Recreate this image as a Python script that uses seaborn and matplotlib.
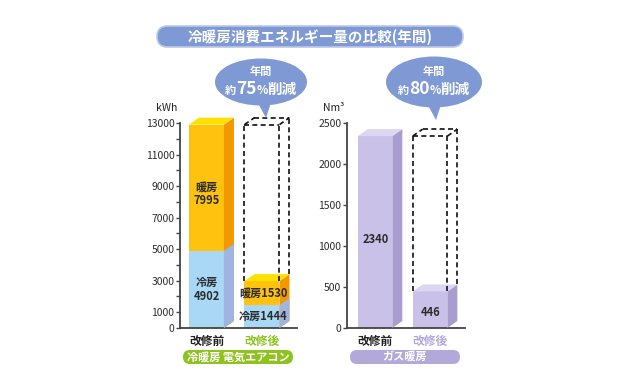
import matplotlib
matplotlib.use("Agg")
import matplotlib.pyplot as plt
import seaborn as sns
from matplotlib.patches import Polygon, FancyBboxPatch, Ellipse

sns.set_theme(style="white")
plt.rcParams["font.family"] = ["Noto Sans CJK JP", "DejaVu Sans"]

# データ
stages = ["改修前", "改修後"]
elec_cool = [4902, 1444]   # 冷房 kWh
elec_heat = [7995, 1530]   # 暖房 kWh
gas_heat = [2340, 446]     # ガス暖房 Nm3
elec_ticks = list(range(0, 13001, 1000))
elec_ticklabels = [str(v) if (v == 0 or (v // 1000) % 2 == 1) else "" for v in elec_ticks]
gas_ticks = [0, 500, 1000, 1500, 2000, 2500]
elec_cut = "75"
gas_cut = "80"

ORANGE, ORANGE_TOP, ORANGE_SIDE = "#ffc20e", "#ffe100", "#f39800"
BLUE, BLUE_SIDE = "#a8d8f5", "#9fb4e0"
LAV, LAV_TOP, LAV_SIDE = "#c9c1e8", "#dcd6f2", "#a99ccf"
BUBBLE = "#7e99d3"
GREEN = "#8dc21f"
LAV_TXT = "#b3a8da"
INK = "#2b2b2b"

W, H = 630, 390
fig = plt.figure(figsize=(W / 100, H / 100), dpi=100)


def px_axes(x0, y_top, x1, y_bot):
    return fig.add_axes([x0 / W, (H - y_bot) / H, (x1 - x0) / W, (y_bot - y_top) / H])


def style_axes(ax, ymax, ticks, ticklabels, unit):
    ax.set_ylim(0, ymax)
    ax.set_yticks(ticks)
    ax.set_yticklabels(ticklabels)
    ax.set_xlabel("")
    ax.set_ylabel("")
    for s in ["top", "right"]:
        ax.spines[s].set_visible(False)
    for s in ["left", "bottom"]:
        ax.spines[s].set_color("#444444")
        ax.spines[s].set_linewidth(1.3)
    ax.tick_params(axis="y", length=3, width=1, color="#444444", pad=1,
                   labelsize=7.5, labelcolor=INK, direction="out", left=True)
    ax.tick_params(axis="x", length=0, pad=5, labelsize=8.5)
    for lab in ax.get_xticklabels():
        lab.set_fontweight("bold")
    ax.patch.set_alpha(0)
    ax.text(-0.11, 1.075, unit, transform=ax.transAxes, ha="center", va="center",
            fontsize=7.5, color="#222222")


def depth(ax, dx_px=10, dy_px=7):
    bb = ax.get_position()
    xr = ax.get_xlim()[1] - ax.get_xlim()[0]
    yr = ax.get_ylim()[1] - ax.get_ylim()[0]
    return dx_px * xr / (bb.width * W), dy_px * yr / (bb.height * H)


def side_face(ax, p, color, dx, dy):
    x1 = p.get_x() + p.get_width()
    y0, y1 = p.get_y(), p.get_y() + p.get_height()
    ax.add_patch(Polygon([(x1, y0), (x1 + dx, y0 + dy), (x1 + dx, y1 + dy), (x1, y1)],
                         closed=True, fc=color, ec="none", clip_on=False, zorder=3))


def top_face(ax, p, color, dx, dy):
    x0, x1 = p.get_x(), p.get_x() + p.get_width()
    y1 = p.get_y() + p.get_height()
    ax.add_patch(Polygon([(x0, y1), (x0 + dx, y1 + dy), (x1 + dx, y1 + dy), (x1, y1)],
                         closed=True, fc=color, ec="none", clip_on=False, zorder=3))


def dashed_box(ax, p, top, dx, dy):
    x0, x1 = p.get_x(), p.get_x() + p.get_width()
    b = p.get_y() + p.get_height()
    kw = dict(color="#111111", lw=1.2, ls=(0, (3, 2)), clip_on=False, zorder=4)
    ax.plot([x0, x0], [b, top], **kw)
    ax.plot([x1, x1], [b, top], **kw)
    ax.plot([x1 + dx, x1 + dx], [b + dy, top + dy], **kw)
    ax.plot([x0, x1], [top, top], **kw)
    ax.plot([x0 + dx, x1 + dx], [top + dy, top + dy], **kw)
    ax.plot([x0, x0 + dx], [top, top + dy], **kw)
    ax.plot([x1, x1 + dx], [top, top + dy], **kw)


bar_kw = dict(saturation=1, width=0.63, zorder=2, linewidth=0)

# ---- 電気エアコン ----
elec_total = [c + h for c, h in zip(elec_cool, elec_heat)]
ax1 = px_axes(180, 123, 297, 328)
sns.barplot(x=stages, y=elec_total, ax=ax1, color=ORANGE, **bar_kw)
sns.barplot(x=stages, y=elec_cool, ax=ax1, color=BLUE, **bar_kw)
ax1.set_xlim(-0.477, 1.631)
style_axes(ax1, 13000, elec_ticks, elec_ticklabels, "kWh")
tot_p, cool_p = ax1.patches[:2], ax1.patches[2:4]
dx, dy = depth(ax1)
for i in range(2):
    side_face(ax1, tot_p[i], ORANGE_SIDE, dx, dy)
    side_face(ax1, cool_p[i], BLUE_SIDE, dx, dy)
    top_face(ax1, tot_p[i], ORANGE_TOP, dx, dy)
dashed_box(ax1, tot_p[1], elec_total[0], dx, dy)
cx0 = cool_p[0].get_x() + cool_p[0].get_width() / 2
cx1 = cool_p[1].get_x() + cool_p[1].get_width() / 2 + 0.02
lab_kw = dict(ha="center", va="center", fontsize=8, color=INK, fontweight="bold", zorder=5)
ax1.text(cx0, elec_cool[0] + elec_heat[0] * 0.45, f"暖房\n{elec_heat[0]}", linespacing=1.1, **lab_kw)
ax1.text(cx0, elec_cool[0] / 2, f"冷房\n{elec_cool[0]}", linespacing=1.1, **lab_kw)
ax1.text(cx1, elec_cool[1] + elec_heat[1] / 2, f"暖房{elec_heat[1]}", **lab_kw)
ax1.text(cx1, elec_cool[1] / 2, f"冷房{elec_cool[1]}", **lab_kw)
ax1.get_xticklabels()[0].set_color("#222222")
ax1.get_xticklabels()[1].set_color(GREEN)

# ---- ガス暖房 ----
ax2 = px_axes(347, 123, 465, 328)
sns.barplot(x=stages, y=gas_heat, ax=ax2, color=LAV, **bar_kw)
ax2.set_xlim(-0.509, 1.636)
style_axes(ax2, 2500, gas_ticks, [str(v) for v in gas_ticks], "Nm³")
gas_p = ax2.patches[:2]
dx, dy = depth(ax2)
for i in range(2):
    side_face(ax2, gas_p[i], LAV_SIDE, dx, dy)
    top_face(ax2, gas_p[i], LAV_TOP, dx, dy)
    cx = gas_p[i].get_x() + gas_p[i].get_width() / 2 + 0.02
    ax2.text(cx, gas_heat[i] * (0.46 if i == 0 else 0.42), str(gas_heat[i]), **lab_kw)
dashed_box(ax2, gas_p[1], gas_heat[0], dx, dy)
ax2.get_xticklabels()[0].set_color("#222222")
ax2.get_xticklabels()[1].set_color(LAV_TXT)

# ---- 装飾 (ピクセル座標) ----
ov = fig.add_axes([0, 0, 1, 1], zorder=10)
ov.set_xlim(0, W)
ov.set_ylim(H, 0)
ov.axis("off")


def pill(x0, x1, y0, y1, fc, text, size, ec="none"):
    h = y1 - y0
    ov.add_patch(FancyBboxPatch((x0, y0), x1 - x0, h,
                                boxstyle=f"round,pad=0,rounding_size={h / 2}",
                                fc=fc, ec=ec, lw=1.2))
    ov.text((x0 + x1) / 2, (y0 + y1) / 2 + 0.5, text, ha="center", va="center",
            fontsize=size, color="white", fontweight="bold")


pill(157, 463, 26, 47, BUBBLE, "冷暖房消費エネルギー量の比較(年間)", 10.5, ec="#b9c7ea")
pill(183, 293, 350, 364, GREEN, "冷暖房 電気エアコン", 8)
pill(350, 460, 350, 364, LAV_TXT, "ガス暖房", 8)

renderer = fig.canvas.get_renderer()


def rich_line(cx, cy, parts):
    texts = []
    for s, size in parts:
        texts.append(ov.text(0, cy, s, fontsize=size, color="white", fontweight="bold",
                             ha="left", va="baseline"))
    widths = [t.get_window_extent(renderer).width for t in texts]
    x = cx - sum(widths) / 2
    for t, w in zip(texts, widths):
        t.set_x(x)
        x += w


def bubble(cx, cy, w, h, tip, pct):
    ov.add_patch(Polygon([(tip[0] - 10, cy + h / 2 - 6), (tip[0] + 6, cy + h / 2 - 6), tip],
                         closed=True, fc=BUBBLE, ec="none"))
    ov.add_patch(Ellipse((cx, cy), w, h, fc=BUBBLE, ec="none"))
    ov.text(cx, cy - 11, "年間", ha="center", va="center", fontsize=8, color="white",
            fontweight="bold")
    rich_line(cx, cy + 12, [("約", 8), (pct, 12.5), ("%", 8.5), ("削減", 10.5)])


bubble(261, 82, 92, 47, (266, 118), elec_cut)
bubble(434, 82, 96, 51, (436, 120), gas_cut)

fig.savefig("out.png", dpi=100)
